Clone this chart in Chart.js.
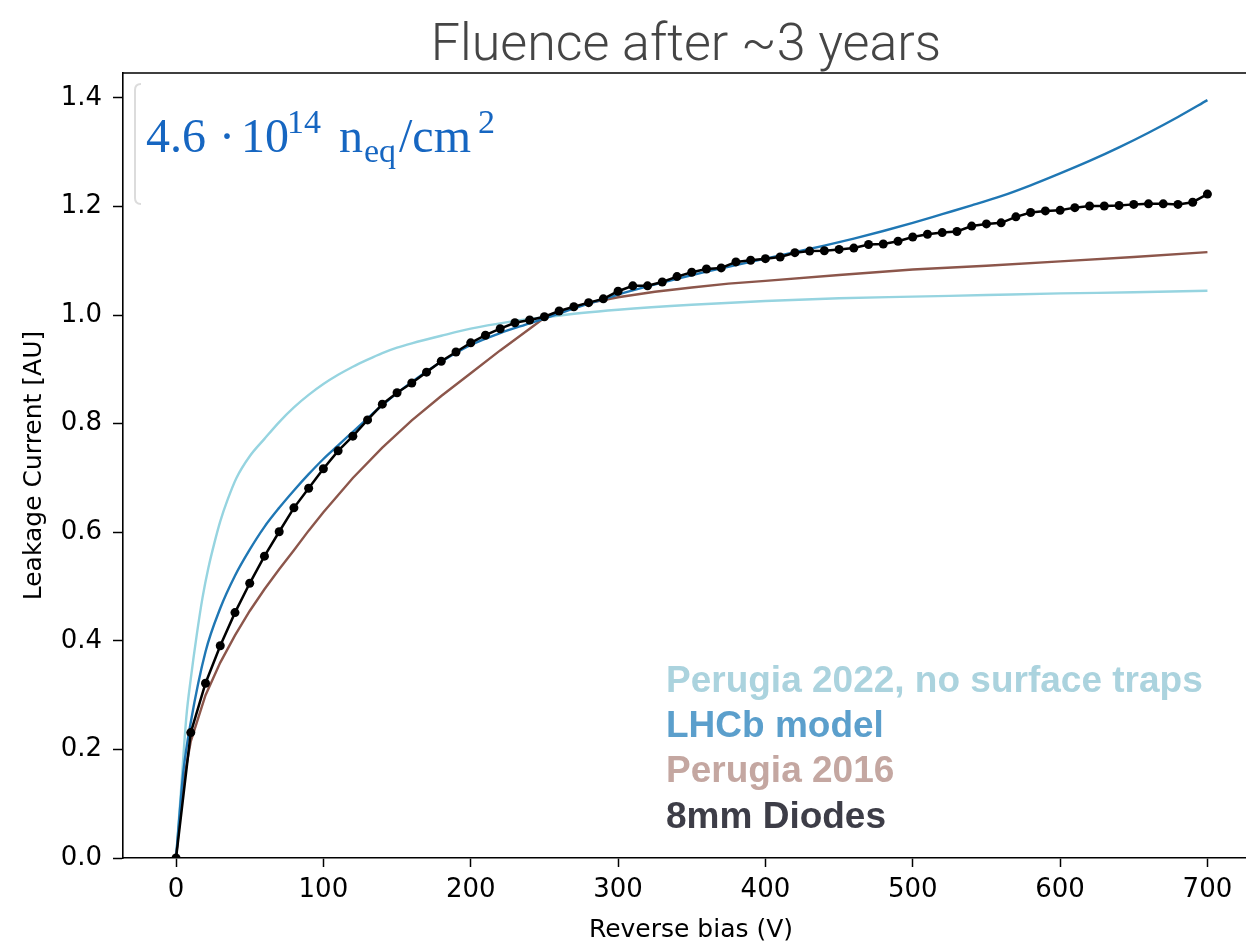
<!DOCTYPE html>
<html>
<head>
<meta charset="utf-8">
<script src="https://cdn.jsdelivr.net/npm/chart.js@4.4.1/dist/chart.umd.min.js"></script>
<style>
html,body{margin:0;padding:0;background:#fff;overflow:hidden;width:1246px;height:943px;}
canvas{display:block;}
</style>
</head>
<body>
<canvas id="c" width="1280" height="943" style="width:1280px;height:943px"></canvas>
<script>
// ---- data ----
const titleText = "Fluence after ~3 years";
const xTickValues = [0,100,200,300,400,500,600,700];
const yTickValues = [0.0,0.2,0.4,0.6,0.8,1.0,1.2,1.4];
const xAxisLabel = "Reverse bias (V)";
const yAxisLabel = "Leakage Current [AU]";

const legendLabels = ["Perugia 2022, no surface traps","LHCb model","Perugia 2016","8mm Diodes"];

// 8mm Diodes (measured points)
const diodeV = [0,10,20,30,40,50,60,70,80,90,100,110,120,130,140,150,160,170,180,190,200,210,220,230,240,250,260,270,280,290,300,310,320,330,340,350,360,370,380,390,400,410,420,430,440,450,460,470,480,490,500,510,520,530,540,550,560,570,580,590,600,610,620,630,640,650,660,670,680,690,700];
const diodeI = [0,0.231,0.322,0.391,0.452,0.506,0.556,0.601,0.645,0.681,0.717,0.750,0.777,0.807,0.836,0.857,0.875,0.895,0.915,0.932,0.949,0.963,0.975,0.986,0.991,0.997,1.0075,1.0155,1.023,1.030,1.044,1.054,1.054,1.061,1.071,1.079,1.085,1.087,1.098,1.101,1.104,1.107,1.115,1.118,1.1185,1.121,1.1235,1.130,1.131,1.136,1.144,1.149,1.152,1.154,1.164,1.168,1.170,1.181,1.189,1.192,1.193,1.198,1.201,1.201,1.202,1.204,1.205,1.205,1.204,1.208,1.223];

// LHCb model
const lhcbV = [0,5,10,20,30,40,50,60,70,80,90,100,110,120,130,140,160,180,200,220,240,260,280,300,320,340,360,380,400,420,440,460,480,500,520,540,560,580,600,620,640,660,680,700];
const lhcbI = [0,0.16,0.25,0.38,0.46,0.52,0.568,0.61,0.645,0.677,0.707,0.735,0.76,0.785,0.81,0.834,0.877,0.914,0.945,0.967,0.985,1.003,1.021,1.038,1.053,1.067,1.080,1.092,1.104,1.116,1.128,1.141,1.155,1.170,1.186,1.202,1.219,1.239,1.261,1.284,1.309,1.336,1.365,1.396];

// Perugia 2016
const p2016V = [0,5,10,20,30,40,50,60,70,80,90,100,120,140,160,180,200,220,240,250,260,280,300,325,350,375,400,450,500,550,600,650,700];
const p2016I = [0,0.14,0.215,0.30,0.36,0.41,0.455,0.495,0.532,0.567,0.603,0.637,0.70,0.756,0.806,0.851,0.893,0.935,0.975,0.995,1.006,1.022,1.033,1.043,1.051,1.058,1.063,1.074,1.084,1.091,1.099,1.107,1.116];

// Perugia 2022, no surface traps
const p2022V = [0,3,7,10,14,18,22,26,30,35,41,50,60,70,80,90,100,110,120,130,140,150,160,180,200,225,250,275,300,350,400,450,500,550,600,650,700];
const p2022I = [0,0.11,0.26,0.33,0.41,0.48,0.535,0.58,0.62,0.66,0.70,0.74,0.772,0.803,0.83,0.853,0.873,0.89,0.905,0.918,0.93,0.94,0.948,0.962,0.975,0.987,0.996,1.004,1.01,1.019,1.026,1.031,1.034,1.037,1.04,1.042,1.045];

// ---- styles ----
const C_DIODE = "#000000";
const C_LHCB = "#1f77b4";
const C_P2016 = "#8c564b";
const C_P2022 = "#96d4e0";
const legendColors = ["#abd3de","#5b9fcc","#c4a7a1","#3d3d47"];

const pairs = (xs, ys) => xs.map((x, i) => ({x: x, y: ys[i]}));
const tickFont = {family: "'DejaVu Sans'", size: 26};

const overlay = {
  id: 'overlay',
  afterDraw(chart) {
    const ctx = chart.ctx;
    const a = chart.chartArea;
    ctx.save();
    // top & right spines
    ctx.strokeStyle = "#000";
    ctx.lineWidth = 1.6;
    ctx.beginPath();
    ctx.moveTo(a.left, a.top); ctx.lineTo(a.right, a.top); ctx.lineTo(a.right, a.bottom);
    ctx.stroke();

    // title
    ctx.fillStyle = "#454545";
    ctx.font = "300 52px Roboto, 'Open Sans', sans-serif";
    ctx.textAlign = "center";
    ctx.textBaseline = "alphabetic";
    ctx.fillText(titleText, (a.left + a.right) / 2 - 5, 60);

    // annotation frame (left edge only visible)
    ctx.strokeStyle = "#dcdcdc";
    ctx.lineWidth = 2;
    ctx.beginPath();
    ctx.moveTo(141, 84);
    ctx.quadraticCurveTo(135, 84, 135, 90);
    ctx.lineTo(135, 198);
    ctx.quadraticCurveTo(135, 204, 141, 204);
    ctx.stroke();

    // annotation text 4.6 · 10^14 n_eq/cm^2
    ctx.fillStyle = "#1666c1";
    ctx.textAlign = "left";
    const main = "48px 'Liberation Serif', 'Times New Roman', serif";
    const small = "34px 'Liberation Serif', 'Times New Roman', serif";
    const base = 152;
    ctx.font = main; ctx.fillText("4.6", 146, base);
    ctx.fillText("\u00B7", 219, base);
    ctx.fillText("10", 241, base);
    ctx.font = small; ctx.fillText("14", 287, base - 19);
    ctx.font = main; ctx.fillText("n", 339, base);
    ctx.font = small; ctx.fillText("eq", 364, base + 10);
    ctx.font = main; ctx.fillText("/cm", 399, base);
    ctx.font = small; ctx.fillText("2", 478, base - 19);

    // legend text block
    ctx.font = "bold 37px 'Liberation Sans', Arial, sans-serif";
    const baselines = [692, 737, 782, 828];
    legendLabels.forEach((t, i) => {
      ctx.fillStyle = legendColors[i];
      ctx.fillText(t, 666, baselines[i]);
    });
    ctx.restore();
  }
};

new Chart(document.getElementById('c'), {
  type: 'line',
  data: {
    datasets: [
      {label: legendLabels[3], data: pairs(diodeV, diodeI), borderColor: C_DIODE, backgroundColor: C_DIODE,
       borderWidth: 2.5, pointRadius: 4.5, pointBorderWidth: 0, tension: 0},
      {label: legendLabels[1], data: pairs(lhcbV, lhcbI), borderColor: C_LHCB, borderWidth: 2.4,
       pointRadius: 0, cubicInterpolationMode: 'monotone'},
      {label: legendLabels[2], data: pairs(p2016V, p2016I), borderColor: C_P2016, borderWidth: 2.4,
       pointRadius: 0, tension: 0},
      {label: legendLabels[0], data: pairs(p2022V, p2022I), borderColor: C_P2022, borderWidth: 2.4,
       pointRadius: 0, cubicInterpolationMode: 'monotone'}
    ]
  },
  options: {
    responsive: false,
    animation: false,
    devicePixelRatio: 1,
    layout: {padding: {top: 73, left: 0, right: 21, bottom: 0}},
    plugins: {legend: {display: false}, tooltip: {enabled: false}, title: {display: false}},
    scales: {
      x: {
        type: 'linear', min: -36, max: 735,
        afterBuildTicks: s => { s.ticks = xTickValues.map(v => ({value: v})); },
        afterFit: s => { s.height = 85; },
        grid: {drawOnChartArea: false, drawTicks: true, tickLength: 9, tickColor: '#000', tickWidth: 1.5},
        border: {display: true, color: '#000', width: 1.6},
        ticks: {color: '#000', font: tickFont, padding: 8, maxRotation: 0, autoSkip: false,
                callback: v => String(v)},
        title: {display: true, text: xAxisLabel, color: '#000', font: {family: "'DejaVu Sans'", size: 25, lineHeight: 1.0},
                padding: {top: 0, bottom: 0}}
      },
      y: {
        type: 'linear', min: 0, max: 1.446,
        afterBuildTicks: s => { s.ticks = yTickValues.map(v => ({value: v})); },
        afterFit: s => { s.width = 123; },
        grid: {drawOnChartArea: false, drawTicks: true, tickLength: 10, tickColor: '#000', tickWidth: 1.5},
        border: {display: true, color: '#000', width: 1.6},
        ticks: {color: '#000', font: tickFont, padding: 11, autoSkip: false,
                callback: v => Number(v).toFixed(1)},
        title: {display: true, text: yAxisLabel, color: '#000', font: {family: "'DejaVu Sans'", size: 25, lineHeight: 1.0},
                padding: {top: 22, bottom: 0}}
      }
    }
  },
  plugins: [overlay]
});
</script>
</body>
</html>
